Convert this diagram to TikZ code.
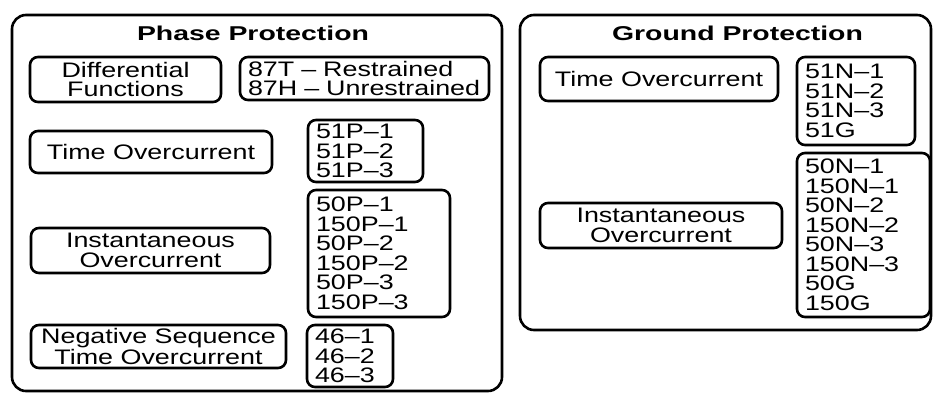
\documentclass[tikz,border=0pt]{standalone}
\usepackage{fontspec}
\setmainfont{Liberation Sans}[FakeStretch=1.28]
\newfontfamily\headfont{Liberation Sans}[FakeStretch=1.42]
\usetikzlibrary{
	positioning
}
\tikzset{frame node/.style={
	draw,
	rounded corners=14pt,
	line width=2.6pt,
	inner sep=0pt,
}}
\tikzset{func node/.style={
	draw,
	rounded corners=8pt,
	line width=2.6pt,
	align=center,
	inner sep=0pt,
	font=\fontsize{21}{19.5}\selectfont,
}}
\tikzset{code node/.style={
	func node,
	align=left,
	inner xsep=8pt,
}}
\tikzset{
	title node/.style={inner sep=0pt, font=\headfont\bfseries\fontsize{20}{20}\selectfont}
	,every picture/.append style={x=1pt, y=-1pt}
}

\begin{document}
\begin{tikzpicture}
\useasboundingbox (0,0) rectangle (933,394);

% the two frames
\node[frame node, minimum width=490, minimum height=376](ph) at(257,203){};
\node[frame node, minimum width=411, minimum height=315](gr) at(725.5,172.5){};
\node[title node](phT) at(253,33){Phase Protection};
\node[title node](grT) at(737.5,33){Ground Protection};

\begin{scope}[every node/.append style={func node}]
\node[minimum width=191, minimum height=45](diff) at(125.5,79.5){Differential\\Functions};
\node[minimum width=242, minimum height=42](toc) at(151,152){Time Overcurrent};
\node[minimum width=239, minimum height=45](ioc) at(150.5,250.5){Instantaneous\\Overcurrent};
\node[minimum width=255, minimum height=43](neg) at(158.5,346.5){Negative Sequence\\Time Overcurrent};

\node[minimum width=238, minimum height=44](gtoc) at(659,79){Time Overcurrent};
\node[minimum width=242, minimum height=45](gioc) at(661,225.5){Instantaneous\\Overcurrent};
\end{scope}

\begin{scope}[every node/.append style={code node}]
\node[text width=233, minimum height=43](diffC) at(364.5,78.5){87T -- Restrained\\87H -- Unrestrained};
\node[text width=99, minimum height=62](tocC) at(365.5,151){51P--1\\51P--2\\51P--3};
\node[text width=126, minimum height=127](iocC) at(379,253.5){50P--1\\150P--1\\50P--2\\150P--2\\50P--3\\150P--3};
\node[text width=70, minimum height=62](negC) at(350,356){46--1\\46--2\\46--3};

\node[text width=102, minimum height=88](gtocC) at(856,101){51N--1\\51N--2\\51N--3\\51G};
\node[text width=117, minimum height=164](giocC) at(863.5,235){50N--1\\150N--1\\50N--2\\150N--2\\50N--3\\150N--3\\50G\\150G};
\end{scope}
\end{tikzpicture}
\end{document}
